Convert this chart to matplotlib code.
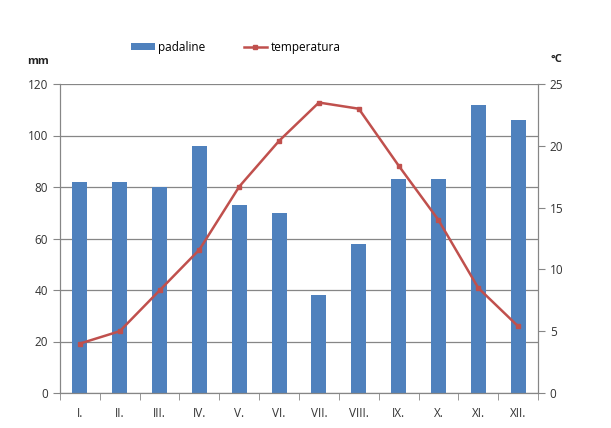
import matplotlib
matplotlib.use("Agg")
import matplotlib.pyplot as plt
import numpy as np

months = ["I.", "II.", "III.", "IV.", "V.", "VI.", "VII.", "VIII.", "IX.", "X.", "XI.", "XII."]
padaline = [82, 82, 80, 96, 73, 70, 38, 58, 83, 83, 112, 106]
temperatura = [4.0, 5.0, 8.3, 11.6, 16.7, 20.4, 23.5, 23.0, 18.4, 14.0, 8.5, 5.4]

bar_color = "#4F81BD"
line_color = "#C0504D"
axis_color = "#868686"

plt.rcParams['font.family'] = ['Open Sans', 'DejaVu Sans']

fig = plt.figure(figsize=(6.11, 4.28), dpi=100)
ax = fig.add_axes([60 / 611, 35 / 428, 478 / 611, 309 / 428])
ax2 = ax.twinx()

x = np.arange(len(months))
ax.bar(x, padaline, width=0.38, color=bar_color, zorder=2, label="padaline")
ax2.plot(x, temperatura, color=line_color, lw=1.8, marker="s", ms=3.2, label="temperatura")

ax.set_xlim(-0.5, len(months) - 0.5)
ax.set_ylim(0, 120)
ax.set_yticks(range(0, 121, 20))
ax2.set_ylim(0, 25)
ax2.set_yticks(range(0, 26, 5))

ax.grid(axis="y", color=axis_color, lw=0.9, zorder=0)
ax.set_axisbelow(True)

ax.set_xticks(x)
ax.set_xticklabels(months)
ax.set_xticks(np.arange(-0.5, len(months), 1), minor=True)
ax.tick_params(axis="x", which="major", length=0, pad=10, labelsize=8.5, colors="#333333")
ax.tick_params(axis="x", which="minor", length=5, color=axis_color, direction="out")
ax.tick_params(axis="y", length=5, color=axis_color, labelsize=8.5, labelcolor="#333333")
ax2.tick_params(axis="y", length=5, color=axis_color, labelsize=8.5, labelcolor="#333333")

for a in (ax, ax2):
    a.spines["top"].set_visible(False)
    for s in ("left", "right", "bottom"):
        a.spines[s].set_color(axis_color)

fig.text(38 / 611, 1 - 62 / 428, "mm", fontsize=8, fontweight="bold", ha="center", va="center", color="#222222")
fig.text(556 / 611, 1 - 60 / 428, "°C", fontsize=8, fontweight="bold", ha="center", va="center", color="#222222")

h1, l1 = ax.get_legend_handles_labels()
h2, l2 = ax2.get_legend_handles_labels()
fig.legend(h1 + h2, l1 + l2, loc="center", bbox_to_anchor=(236 / 611, 1 - 47 / 428), ncol=2,
           frameon=False, fontsize=8.5, handlelength=2.0, handleheight=0.5, columnspacing=3.2, handletextpad=0.3)

plt.savefig("out.png", dpi=100)
